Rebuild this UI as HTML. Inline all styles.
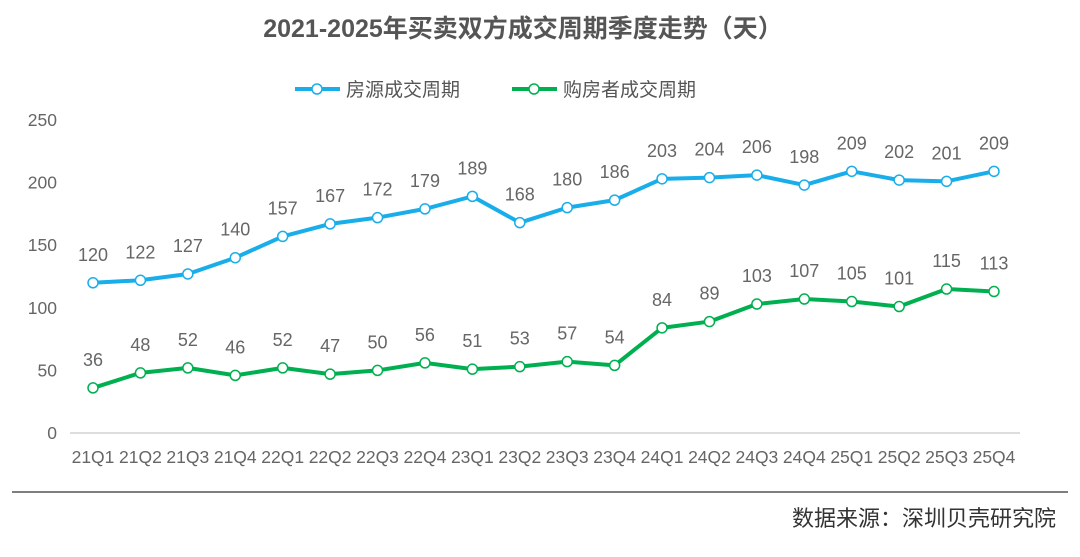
<!DOCTYPE html>
<html><head><meta charset="utf-8">
<style>
body{margin:0;background:#fff;}
svg text{font-family:"Liberation Sans","Noto Sans CJK SC",sans-serif;}
</style></head>
<body>
<svg id="chart" width="1080" height="552" viewBox="0 0 1080 552" xmlns="http://www.w3.org/2000/svg">
<text x="523" y="37" text-anchor="middle" font-size="25" font-weight="bold" fill="#555">2021-2025年买卖双方成交周期季度走势（天）</text>
<g>
<g>
<line x1="295" y1="89" x2="340" y2="89" stroke="#19aeea" stroke-width="4"/>
<circle cx="317" cy="89" r="5" fill="#fff" stroke="#19aeea" stroke-width="1.5"/>
<text x="346" y="96" font-size="19" fill="#555">房源成交周期</text>
</g>
<g>
<line x1="512" y1="89" x2="557" y2="89" stroke="#00b050" stroke-width="4"/>
<circle cx="534" cy="89" r="5" fill="#fff" stroke="#00b050" stroke-width="1.5"/>
<text x="563" y="96" font-size="19" fill="#555">购房者成交周期</text>
</g>
</g>
<g id="yaxis"></g>
<g id="xaxis"></g>
<g id="series"></g>
<line x1="12" y1="492" x2="1068" y2="492" stroke="#555" stroke-width="1.5"/>
<text x="1056" y="526" text-anchor="end" font-size="22" fill="#333">数据来源：深圳贝壳研究院</text>
</svg>
<script>
const categories=["21Q1","21Q2","21Q3","21Q4","22Q1","22Q2","22Q3","22Q4","23Q1","23Q2","23Q3","23Q4","24Q1","24Q2","24Q3","24Q4","25Q1","25Q2","25Q3","25Q4"];
const sellerCycle=[120,122,127,140,157,167,172,179,189,168,180,186,203,204,206,198,209,202,201,209];
const buyerCycle=[36,48,52,46,52,47,50,56,51,53,57,54,84,89,103,107,105,101,115,113];
const yTicks=[0,50,100,150,200,250];
const NS="http://www.w3.org/2000/svg";
const x=i=>93+i*(994-93)/(categories.length-1);
const y=v=>433-v*(433-120)/250;
function mk(tag,attrs,parent,txt){const e=document.createElementNS(NS,tag);for(const k in attrs)e.setAttribute(k,attrs[k]);if(txt!==undefined)e.textContent=txt;parent.appendChild(e);return e;}
const ya=document.getElementById('yaxis'),xa=document.getElementById('xaxis'),sg=document.getElementById('series');
yTicks.forEach(t=>{const e=mk('text',{x:57,y:y(t)+6,'text-anchor':'end','font-size':17.5,fill:'#666'},ya,t);

});
const al=mk('line',{x1:70,y1:433,x2:1020,y2:433,stroke:'#bbb','stroke-width':1},xa);


categories.forEach((c,i)=>{const e=mk('text',{x:x(i),y:463,'text-anchor':'middle','font-size':17.5,fill:'#666'},xa,c);

});
function drawSeries(vals,color,name){
const g=mk('g',{},sg);


const p=mk('polyline',{points:vals.map((v,i)=>x(i)+','+y(v)).join(' '),fill:'none',stroke:color,'stroke-width':4,'stroke-linejoin':'round'},g);


vals.forEach((v,i)=>{
const c=mk('circle',{cx:x(i),cy:y(v),r:5,fill:'#fff',stroke:color,'stroke-width':1.5},g);


const t=mk('text',{x:x(i),y:y(v)-22,'text-anchor':'middle','font-size':18,fill:'#666'},g,v);


});}
drawSeries(sellerCycle,'#19aeea','seller-series');
drawSeries(buyerCycle,'#00b050','buyer-series');
</script>
</body></html>
